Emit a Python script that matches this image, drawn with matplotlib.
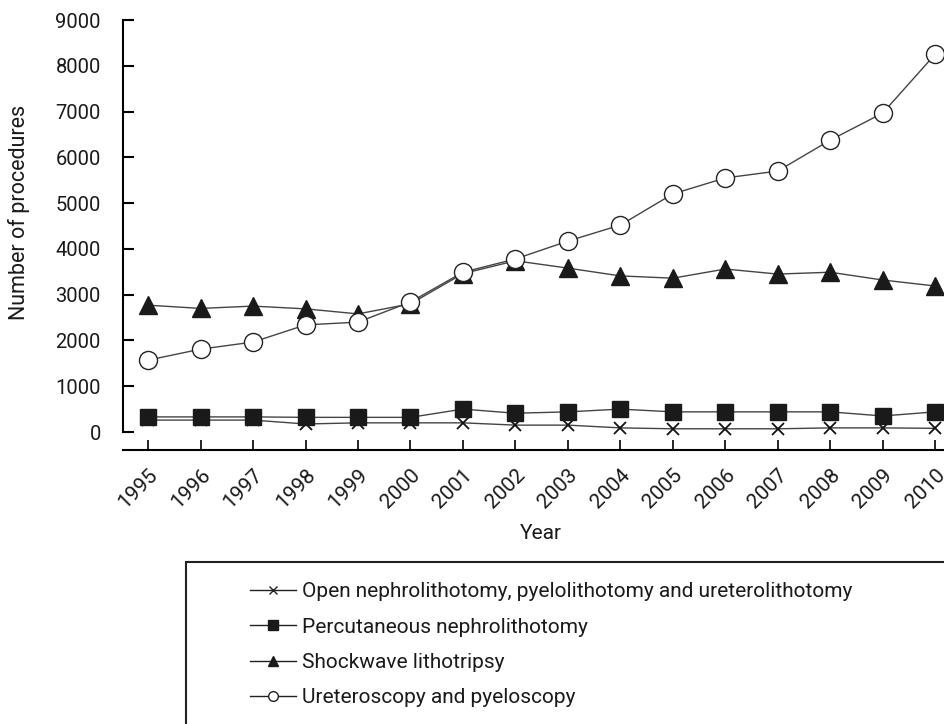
import matplotlib.pyplot as plt
from matplotlib.lines import Line2D
from matplotlib.patches import Rectangle

plt.rcParams['font.family'] = ['Roboto', 'DejaVu Sans']

years = list(range(1995, 2011))
open_surgery = [260, 260, 260, 175, 200, 200, 200, 150, 150, 90, 70, 70, 70, 90, 90, 80]
percutaneous = [330, 330, 330, 320, 320, 320, 500, 410, 440, 500, 440, 440, 440, 440, 350, 440]
shockwave = [2770, 2700, 2750, 2690, 2580, 2800, 3460, 3740, 3580, 3410, 3360, 3560, 3450, 3490, 3320, 3190]
ureteroscopy = [1570, 1810, 1965, 2340, 2400, 2840, 3490, 3780, 4170, 4520, 5200, 5550, 5700, 6375, 6965, 8250]

labels = [
    "Open nephrolithotomy, pyelolithotomy and ureterolithotomy",
    "Percutaneous nephrolithotomy",
    "Shockwave lithotripsy",
    "Ureteroscopy and pyeloscopy",
]

fig = plt.figure(figsize=(9.44, 7.24), dpi=100)
ax = fig.add_axes([123 / 944, 1 - 432 / 724, 1 - 123 / 944, (432 - 20) / 724])

# spine offset first, it resets the tick objects
for s in ['top', 'right']:
    ax.spines[s].set_visible(False)
ax.spines['bottom'].set_position(('outward', 13))
ax.spines['left'].set_linewidth(1.5)
ax.spines['bottom'].set_linewidth(1.5)

line_kw = dict(color='#444444', lw=1.0, clip_on=False)
ax.plot(years, open_surgery, marker='x', ms=9, mew=1.3, mec='#111111', **line_kw)
ax.plot(years, percutaneous, marker='s', ms=12, mfc='#1a1a1a', mec='#1a1a1a', **line_kw)
ax.plot(years, shockwave, marker='^', ms=13, mfc='#1a1a1a', mec='#1a1a1a', **line_kw)
ax.plot(years, ureteroscopy, marker='o', ms=13, mfc='white', mec='#222222', mew=1.0, **line_kw)

ax.set_ylim(0, 9000)
ax.set_xlim(1994.52, 2010.17)
ax.set_yticks(range(0, 9001, 1000))
ax.set_xticks(years)
ax.set_xticklabels([str(y) for y in years])

ax.tick_params(axis='y', direction='in', length=8, width=1.5, labelsize=14.5,
               labelcolor='#1a1a1a', pad=16)
ax.tick_params(axis='x', direction='in', length=7, width=1.2, labelsize=15,
               labelcolor='#1a1a1a', pad=11)
for lab in ax.get_xticklabels():
    lab.set_rotation(45)
    lab.set_ha('right')
    lab.set_rotation_mode('anchor')

ax.set_ylabel("Number of procedures", fontsize=15.5, color='#1a1a1a')
ax.yaxis.set_label_coords(-0.113, 0.534)
ax.set_xlabel("Year", fontsize=15, color='#1a1a1a')
ax.xaxis.set_label_coords(0.509, -0.223)

# legend box, runs off the page like the original
fig.patches.append(Rectangle((186 / 944, -0.05), 0.9, 1 - 562 / 724 + 0.05,
                             transform=fig.transFigure, fill=False, lw=1.5, ec='#222222'))

handles = [
    Line2D([], [], color='#222222', lw=1.0, marker='x', ms=6, mew=1.0),
    Line2D([], [], color='#222222', lw=1.0, marker='s', ms=7, mfc='#1a1a1a', mec='#1a1a1a'),
    Line2D([], [], color='#222222', lw=1.0, marker='^', ms=7, mfc='#1a1a1a', mec='#1a1a1a'),
    Line2D([], [], color='#222222', lw=1.0, marker='o', ms=7, mfc='white', mec='#222222'),
]
leg = fig.legend(handles, labels, loc='upper left', bbox_to_anchor=(240 / 944, 1 - 572 / 724),
                 frameon=False, fontsize=15, handlelength=2.2, handletextpad=0.3,
                 labelspacing=0.78, borderpad=0)
for t in leg.get_texts():
    t.set_color('#1a1a1a')

fig.savefig('out.png', dpi=100)
